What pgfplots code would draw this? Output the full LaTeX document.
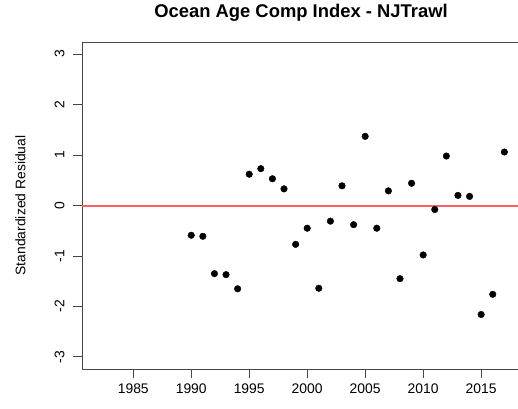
\documentclass[border=0pt]{standalone}
\usepackage{pgfplots}
\pgfplotsset{compat=1.18}
\usepackage{fontspec}
\setmainfont{Liberation Sans}
\definecolor{axc}{RGB}{70,70,70}
\begin{document}
\begin{tikzpicture}
\path[use as bounding box] (0,0) rectangle (518pt,408pt);
\begin{axis}[
  at={(82pt,39pt)}, anchor=south west,
  scale only axis, width=438pt, height=327pt,
  xmin=1980.58, xmax=2018.35, ymin=-3.24, ymax=3.24,
  axis line style={axc, line width=0.9pt},
  every tick/.style={axc, line width=0.9pt},
  tick align=outside, major tick length=9pt,
  xtick={1985,1990,1995,2000,2005,2010,2015},
  ytick={-3,-2,-1,0,1,2,3},
  xtick pos=lower, ytick pos=left,
  /pgf/number format/1000 sep={},
  /pgf/number format/assume math mode=true,
  xticklabel style={yshift=-2pt, anchor=north, font=\fontsize{13.9}{14}\selectfont},
  yticklabel style={rotate=90, anchor=south, yshift=5pt, font=\fontsize{13.9}{14}\selectfont},
  ylabel={Standardized Residual},
  ylabel style={at={(axis description cs:-0.129,0.5)}, anchor=base, rotate=0, font=\fontsize{13.9}{14}\selectfont},
  title={\bfseries Ocean Age Comp Index - NJTrawl},
  title style={at={(0.5,1)}, anchor=base, yshift=18.5pt, font=\fontsize{18.4}{20}\selectfont},
  clip=false,
]
\addplot[red!62!white, line width=2pt, forget plot] coordinates {(1980.58,0) (2018.35,0)};
\addplot[only marks, mark=*, mark size=3.3pt, black] coordinates {
(1990,-0.59) (1991,-0.61) (1992,-1.35) (1993,-1.37) (1994,-1.65)
(1995,0.62) (1996,0.73) (1997,0.53) (1998,0.33) (1999,-0.77)
(2000,-0.45) (2001,-1.64) (2002,-0.31) (2003,0.39) (2004,-0.38)
(2005,1.37) (2006,-0.45) (2007,0.29) (2008,-1.45) (2009,0.44)
(2010,-0.98) (2011,-0.08) (2012,0.98) (2013,0.20) (2014,0.18)
(2015,-2.16) (2016,-1.76) (2017,1.06)
};
\end{axis}
\end{tikzpicture}
\end{document}
